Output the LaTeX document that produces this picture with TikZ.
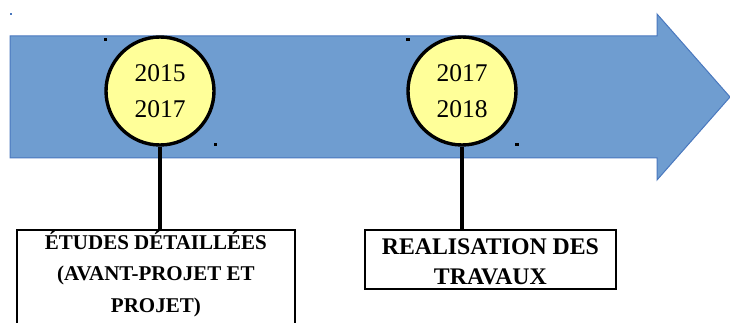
\documentclass[tikz,border=0pt]{standalone}
\usepackage{fontspec}
\setmainfont{Liberation Serif}
\begin{document}
\begin{tikzpicture}[x=1pt,y=-1pt,
  yearcircle/.style={circle,draw=black,line width=3.4pt,fill=yellowfill,minimum size=108pt,inner sep=0pt,align=center,font=\fontsize{25.5}{36}\selectfont},
  labelbox/.style={draw=black,line width=1.8pt,fill=white,inner sep=0pt},
  labeltext/.style={align=center,anchor=north,inner sep=0pt},
  stem/.style={line width=3.4pt,draw=black},
  handle/.style={fill=black,draw=none,minimum size=3.5pt,inner sep=0pt}]
\definecolor{arrowfill}{HTML}{6F9DD0}
\definecolor{arrowline}{HTML}{4A78BE}
\definecolor{yellowfill}{HTML}{FFFF99}
\useasboundingbox (0,0) rectangle (730,323);
\clip (0,0) rectangle (730,323);
% big arrow
\draw[fill=arrowfill,draw=arrowline,line width=1pt]
  (10,36) -- (657,36) -- (657,14) -- (730,97) -- (657,180) -- (657,158) -- (10,158) -- cycle;
\fill[arrowline] (9.5,13) rectangle (12,15.5);
% circles
\node[yearcircle] (c1) at (160,91) {2015\\2017};
\node[yearcircle] (c2) at (462,91) {2017\\2018};
% boxes
\node[labelbox,minimum width=278pt,minimum height=100pt,anchor=north west] (b1) at (16,229) {};
\node[labelbox,minimum width=251pt,minimum height=59pt,anchor=north west] (b2) at (364,229) {};
\node[labeltext,font=\bfseries\fontsize{21}{31.5}\selectfont] (t1) at (b1.north) {\rule{0pt}{20pt}ÉTUDES DÉTAILLÉES\\(AVANT-PROJET ET\\PROJET)};
\node[labeltext,font=\bfseries\fontsize{23.8}{30}\selectfont] (t2) at (b2.north) {\rule{0pt}{25.5pt}REALISATION DES\\TRAVAUX};
% stems
\draw[stem] (c1.south) -- (c1.south |- b1.north);
\draw[stem] (c2.south) -- (c2.south |- b2.north);
% selection handles
\node[handle] (h1) at (105.5,39.5) {};
\node[handle] (h2) at (215.5,144.5) {};
\node[handle] (h3) at (408,39.5) {};
\node[handle] (h4) at (517,144.5) {};
\end{tikzpicture}
\end{document}
